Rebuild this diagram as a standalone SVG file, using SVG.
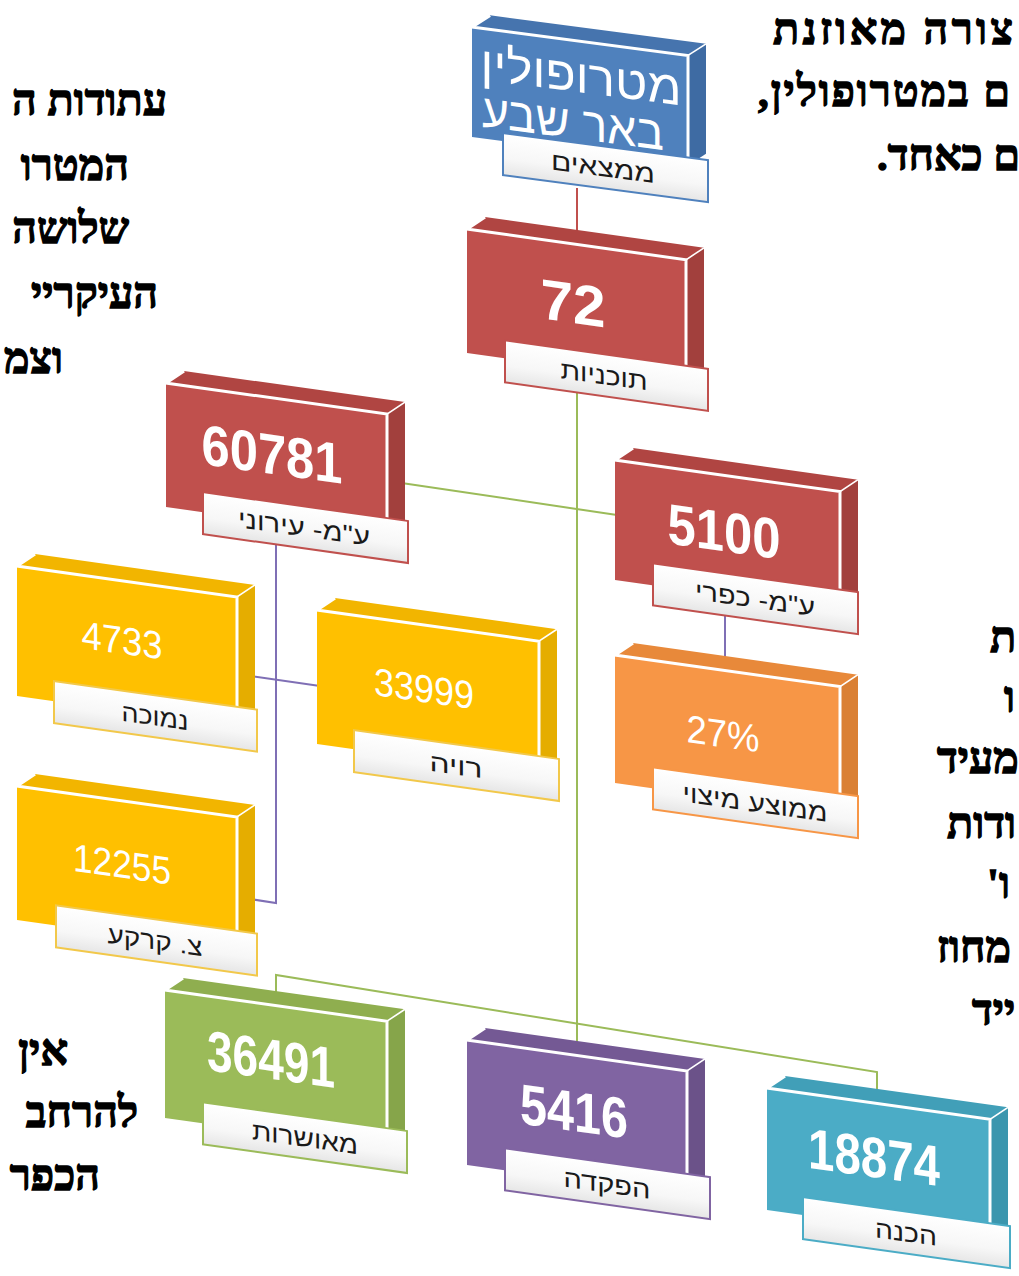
<svg xmlns="http://www.w3.org/2000/svg" width="1019" height="1276" viewBox="0 0 1019 1276">
<style>
  .para{font-family:"Liberation Serif","DejaVu Serif",serif;font-weight:bold;font-size:43px;fill:#000;stroke:#000;stroke-width:1.3;direction:rtl}
  .pl{text-anchor:start}
  .pr{text-anchor:end}
  .num{font-family:"Liberation Sans",Arial,sans-serif;font-weight:bold;font-size:57px;fill:#fff;text-anchor:middle}
  .numl{font-family:"Liberation Sans",Arial,sans-serif;font-size:39px;fill:#fff;text-anchor:middle}
  .title{font-family:"Liberation Sans",Arial,sans-serif;font-size:47px;fill:#fff;text-anchor:middle;direction:rtl}
  .lbl{font-family:"Liberation Sans",Arial,sans-serif;font-size:25px;fill:#1a1a1a;text-anchor:middle;direction:rtl}
  .hl{fill:none;stroke:#fff;stroke-width:3}
  .hl2{fill:none;stroke:#fff;stroke-width:1.5}
  .conn{fill:none;stroke-width:2}
  .blue .f{fill:#4F81BD}.blue .t{fill:#4674AE}.blue .s{fill:#3E6BA3}.blue .lb{stroke:#4F81BD}
  .red .f{fill:#C0504D}.red .t{fill:#B04542}.red .s{fill:#A2403D}.red .lb{stroke:#C0504D}
  .yel .f{fill:#FFC000}.yel .t{fill:#F2B500}.yel .s{fill:#E5AD00}.yel .lb{stroke:#F2C84A}
  .ora .f{fill:#F79646}.ora .t{fill:#E8893A}.ora .s{fill:#DA8034}.ora .lb{stroke:#F79646}
  .grn .f{fill:#9BBB59}.grn .t{fill:#8FAE4F}.grn .s{fill:#86A54A}.grn .lb{stroke:#9BBB59}
  .pur .f{fill:#8064A2}.pur .t{fill:#745994}.pur .s{fill:#6B5289}.pur .lb{stroke:#8064A2}
  .teal .f{fill:#4BACC6}.teal .t{fill:#419FB8}.teal .s{fill:#3B96AE}.teal .lb{stroke:#4BACC6}
  .lb{fill:url(#lg);stroke-width:2}
</style>
<defs>
  <linearGradient id="lg" x1="0" y1="0" x2="0" y2="1">
    <stop offset="0" stop-color="#ffffff"/>
    <stop offset="0.6" stop-color="#f7f7f7"/>
    <stop offset="1" stop-color="#e6e6e6"/>
  </linearGradient>
</defs>
<rect width="1019" height="1276" fill="#fff"/>

<!-- text paragraphs -->
<g id="text-left">
  <text class="para pl" x="167" y="115">עתודות ה</text>
  <text class="para pl" x="129" y="180">המטרו</text>
  <text class="para pl" x="129" y="243">שלושה</text>
  <text class="para pl" x="158" y="308">העיקריי</text>
  <text class="para pl" x="63" y="373">וצמ</text>
</g>
<g id="text-right-top">
  <text class="para pr" x="773" y="44" textLength="240" lengthAdjust="spacing">צורה מאוזנת</text>
  <text class="para pr" x="758" y="106" textLength="252" lengthAdjust="spacing">ם במטרופולין,</text>
  <text class="para pr" x="877" y="170">ם כאחד.</text>
</g>
<g id="text-right-mid">
  <text class="para pr" x="990" y="652">ת</text>
  <text class="para pr" x="1004" y="712">ו</text>
  <text class="para pr" x="937" y="773">מעיד</text>
  <text class="para pr" x="947" y="838">ודות</text>
  <text class="para pr" x="987" y="898">ו'</text>
  <text class="para pr" x="937" y="962">מחוז</text>
  <text class="para pr" x="972" y="1025">ייד</text>
</g>
<g id="text-left-bottom">
  <text class="para pl" x="68" y="1065">אין</text>
  <text class="para pl" x="138" y="1127">להרחב</text>
  <text class="para pl" x="100" y="1190">הכפר</text>
</g>

<!-- connectors -->
<g id="connectors">
  <line class="conn" x1="577" y1="188" x2="577" y2="240" stroke="#C0504D"/>
  <line class="conn" x1="577" y1="385" x2="577" y2="1052" stroke="#9BBB59"/>
  <line class="conn" x1="388" y1="481" x2="617" y2="515" stroke="#9BBB59"/>
  <polyline class="conn" points="276,1000 276,975 877,1072 877,1100" stroke="#9BBB59"/>
  <polyline class="conn" points="276,540 276,903 237,897" stroke="#7F6FB5"/>
  <line class="conn" x1="237" y1="674" x2="320" y2="686" stroke="#7F6FB5"/>
  <line class="conn" x1="725" y1="600" x2="725" y2="668" stroke="#7F6FB5"/>
</g>

<!-- nodes -->
<g id="n-metro" class="blue" transform="translate(472,27) skewY(7.5)">
  <polygon class="t" points="0,0 216,0 234,-14 18,-14"/>
  <polygon class="s" points="216,0 234,-14 234,96 216,110"/>
  <rect class="f" x="0" y="0" width="216" height="110"/>
  <polyline class="hl" points="18,-14 0,0 216,0 216,110"/>
  <line class="hl2" x1="216" y1="0" x2="234" y2="-14"/>
  <text class="title" x="109" y="51" textLength="201" lengthAdjust="spacingAndGlyphs">מטרופולין</text>
  <text class="title" x="101" y="98" textLength="182" lengthAdjust="spacingAndGlyphs">באר שבע</text>
  <rect class="lb" x="31" y="102" width="205" height="42"/>
  <text class="lbl" x="131" y="132" textLength="104" lengthAdjust="spacingAndGlyphs">ממצאים</text>
</g>

<g id="n-72" class="red" transform="translate(467,229) skewY(8)">
  <polygon class="t" points="0,0 219,0 237,-14.5 18,-14.5"/>
  <polygon class="s" points="219,0 237,-14.5 237,109.5 219,124"/>
  <rect class="f" x="0" y="0" width="219" height="124"/>
  <polyline class="hl" points="18,-14.5 0,0 219,0 219,124"/>
  <line class="hl2" x1="219" y1="0" x2="237" y2="-14.5"/>
  <text class="num" x="106" y="79" textLength="65" lengthAdjust="spacingAndGlyphs">72</text>
  <rect class="lb" x="38" y="106" width="203" height="42"/>
  <text class="lbl" x="137" y="136" textLength="87" lengthAdjust="spacingAndGlyphs">תוכניות</text>
</g>

<g id="n-60781" class="red" transform="translate(166,383) skewY(8)">
  <polygon class="t" points="0,0 221,0 239,-14.5 18,-14.5"/>
  <polygon class="s" points="221,0 239,-14.5 239,109.5 221,124"/>
  <rect class="f" x="0" y="0" width="221" height="124"/>
  <polyline class="hl" points="18,-14.5 0,0 221,0 221,124"/>
  <line class="hl2" x1="221" y1="0" x2="239" y2="-14.5"/>
  <text class="num" x="106" y="76" textLength="141" lengthAdjust="spacingAndGlyphs">60781</text>
  <rect class="lb" x="37" y="104" width="205" height="42"/>
  <text class="lbl" x="138" y="134" textLength="132" lengthAdjust="spacingAndGlyphs">ע"מ- עירוני</text>
</g>

<g id="n-5100" class="red" transform="translate(615,460) skewY(8)">
  <polygon class="t" points="0,0 225,0 243,-14.5 18,-14.5"/>
  <polygon class="s" points="225,0 243,-14.5 243,105.5 225,120"/>
  <rect class="f" x="0" y="0" width="225" height="120"/>
  <polyline class="hl" points="18,-14.5 0,0 225,0 225,120"/>
  <line class="hl2" x1="225" y1="0" x2="243" y2="-14.5"/>
  <text class="num" x="109" y="76" textLength="113" lengthAdjust="spacingAndGlyphs">5100</text>
  <rect class="lb" x="38" y="98" width="205" height="42"/>
  <text class="lbl" x="140" y="128" textLength="120" lengthAdjust="spacingAndGlyphs">ע"מ- כפרי</text>
</g>

<g id="n-27" class="ora" transform="translate(615,655) skewY(8)">
  <polygon class="t" points="0,0 225,0 243,-14.5 18,-14.5"/>
  <polygon class="s" points="225,0 243,-14.5 243,113.5 225,128"/>
  <rect class="f" x="0" y="0" width="225" height="128"/>
  <polyline class="hl" points="18,-14.5 0,0 225,0 225,128"/>
  <line class="hl2" x1="225" y1="0" x2="243" y2="-14.5"/>
  <text class="numl" x="108" y="77" textLength="73" lengthAdjust="spacingAndGlyphs">27%</text>
  <rect class="lb" x="38" y="107" width="205" height="42"/>
  <text class="lbl" x="140" y="137" textLength="145" lengthAdjust="spacingAndGlyphs">ממוצע מיצוי</text>
</g>

<g id="n-4733" class="yel" transform="translate(17,566) skewY(8)">
  <polygon class="t" points="0,0 220,0 238,-14.5 18,-14.5"/>
  <polygon class="s" points="220,0 238,-14.5 238,115.5 220,130"/>
  <rect class="f" x="0" y="0" width="220" height="130"/>
  <polyline class="hl" points="18,-14.5 0,0 220,0 220,130"/>
  <line class="hl2" x1="220" y1="0" x2="238" y2="-14.5"/>
  <text class="numl" x="105" y="73" textLength="81" lengthAdjust="spacingAndGlyphs">4733</text>
  <rect class="lb" x="37" y="110" width="203" height="42"/>
  <text class="lbl" x="138" y="140" textLength="67" lengthAdjust="spacingAndGlyphs">נמוכה</text>
</g>

<g id="n-33999" class="yel" transform="translate(317,610) skewY(8)">
  <polygon class="t" points="0,0 222,0 240,-14.5 18,-14.5"/>
  <polygon class="s" points="222,0 240,-14.5 240,119.5 222,134"/>
  <rect class="f" x="0" y="0" width="222" height="134"/>
  <polyline class="hl" points="18,-14.5 0,0 222,0 222,134"/>
  <line class="hl2" x1="222" y1="0" x2="240" y2="-14.5"/>
  <text class="numl" x="107" y="77" textLength="100" lengthAdjust="spacingAndGlyphs">33999</text>
  <rect class="lb" x="37" y="115" width="205" height="42"/>
  <text class="lbl" x="139" y="145" textLength="53" lengthAdjust="spacingAndGlyphs">רויה</text>
</g>

<g id="n-12255" class="yel" transform="translate(17,786) skewY(8)">
  <polygon class="t" points="0,0 220,0 238,-14.5 18,-14.5"/>
  <polygon class="s" points="220,0 238,-14.5 238,119.5 220,134"/>
  <rect class="f" x="0" y="0" width="220" height="134"/>
  <polyline class="hl" points="18,-14.5 0,0 220,0 220,134"/>
  <line class="hl2" x1="220" y1="0" x2="238" y2="-14.5"/>
  <text class="numl" x="105" y="77" textLength="98" lengthAdjust="spacingAndGlyphs">12255</text>
  <rect class="lb" x="39" y="114" width="201" height="42"/>
  <text class="lbl" x="138" y="144" textLength="95" lengthAdjust="spacingAndGlyphs">צ. קרקע</text>
</g>

<g id="n-36491" class="grn" transform="translate(165,990) skewY(8)">
  <polygon class="t" points="0,0 222,0 240,-14.5 18,-14.5"/>
  <polygon class="s" points="222,0 240,-14.5 240,113.5 222,128"/>
  <rect class="f" x="0" y="0" width="222" height="128"/>
  <polyline class="hl" points="18,-14.5 0,0 222,0 222,128"/>
  <line class="hl2" x1="222" y1="0" x2="240" y2="-14.5"/>
  <text class="num" x="106" y="74" textLength="128" lengthAdjust="spacingAndGlyphs">36491</text>
  <rect class="lb" x="38" y="107" width="204" height="42"/>
  <text class="lbl" x="140" y="137" textLength="106" lengthAdjust="spacingAndGlyphs">מאושרות</text>
</g>

<g id="n-5416" class="pur" transform="translate(467,1040) skewY(8)">
  <polygon class="t" points="0,0 220,0 238,-14.5 18,-14.5"/>
  <polygon class="s" points="220,0 238,-14.5 238,110.5 220,125"/>
  <rect class="f" x="0" y="0" width="220" height="125"/>
  <polyline class="hl" points="18,-14.5 0,0 220,0 220,125"/>
  <line class="hl2" x1="220" y1="0" x2="238" y2="-14.5"/>
  <text class="num" x="107" y="76" textLength="108" lengthAdjust="spacingAndGlyphs">5416</text>
  <rect class="lb" x="38" y="103" width="205" height="42"/>
  <text class="lbl" x="140" y="133" textLength="87" lengthAdjust="spacingAndGlyphs">הפקדה</text>
</g>

<g id="n-18874" class="teal" transform="translate(767,1088) skewY(8)">
  <polygon class="t" points="0,0 223,0 241,-14.5 18,-14.5"/>
  <polygon class="s" points="223,0 241,-14.5 241,107.5 223,122"/>
  <rect class="f" x="0" y="0" width="223" height="122"/>
  <polyline class="hl" points="18,-14.5 0,0 223,0 223,122"/>
  <line class="hl2" x1="223" y1="0" x2="241" y2="-14.5"/>
  <text class="num" x="107" y="74" textLength="132" lengthAdjust="spacingAndGlyphs">18874</text>
  <rect class="lb" x="36" y="104" width="207" height="42"/>
  <text class="lbl" x="139" y="134" textLength="62" lengthAdjust="spacingAndGlyphs">הכנה</text>
</g>
</svg>
